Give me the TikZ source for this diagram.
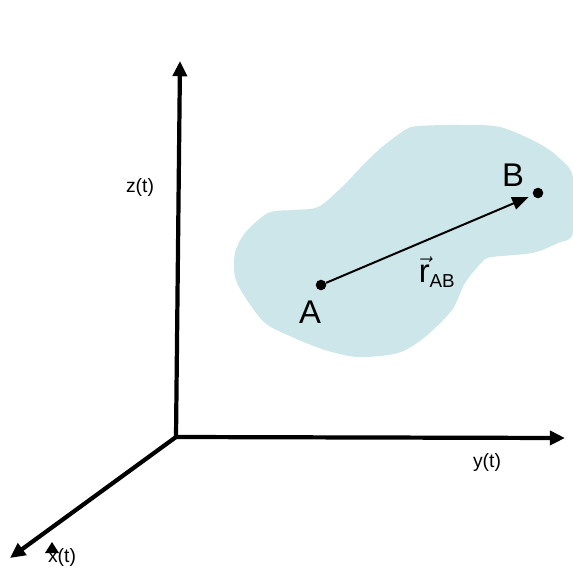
\documentclass[tikz,border=0pt]{standalone}
\usepackage{fontspec}
\setmainfont{Liberation Sans}
\usetikzlibrary{arrows.meta}
\definecolor{blobblue}{HTML}{CCE6E9}
\tikzset{
  axis/.style={line width=3.6pt, draw=black, -{Triangle[length=13pt, width=12pt]}},
  vec/.style={line width=1.7pt, draw=black, -{Triangle[length=14pt, width=11pt]}, shorten >=4pt},
  dot/.style={circle, fill=black, inner sep=0pt, minimum size=9pt},
  small/.style={font=\fontsize{16.5}{19}\selectfont},
  big/.style={font=\fontsize{28}{32}\selectfont}
}

\begin{document}
\begin{tikzpicture}[x=0.03cm, y=-0.03cm]
  \useasboundingbox (0,0) rectangle (573,568);
  % body
  \fill[blobblue] plot[smooth cycle, tension=0.5] coordinates {
    (405,130) (418,126) (460,125) (500,127) (538,143) (558,157) (573,177)
    (573,233) (558,243) (532,253) (492,257) (482,262) (465,283) (452,310)
    (425,337) (398,353) (358,357) (325,350) (292,337) (265,323) (245,297)
    (235,277) (235,253) (245,233) (268,213) (292,210) (318,207) (342,187)
    (365,163) (382,147)};
  % axes
  \coordinate (O) at (176,437);
  \coordinate (ztip) at (180,61);
  \coordinate (ytip) at (565,438);
  \coordinate (xtip) at (10,558);
  \draw[axis] (O) -- (ztip);
  \draw[axis] (O) -- (ytip);
  \draw[axis] (O) -- (xtip);
  \node[small] (zlab) at (140,187) {z(t)};
  \node[small] (ylab) at (487,462) {y(t)};
  \node[small] (xlab) at (62,557) {x(t)};
  \fill (45,553) -- (59,553) -- (52,542) -- cycle;
  % points
  \node[dot] (A) at (321,285) {};
  \node[dot] (B) at (538,193) {};
  \draw[vec] (A) -- (B);
  \node[big] (Alab) at (310,312) {A};
  \node[big] (Blab) at (513,175) {B};
  \node[big, inner sep=0pt] (rlab) at (437,272) {$\vec{\mbox{r}}_{\mbox{\fontsize{16}{18}\selectfont AB}}$};
\end{tikzpicture}
\end{document}
